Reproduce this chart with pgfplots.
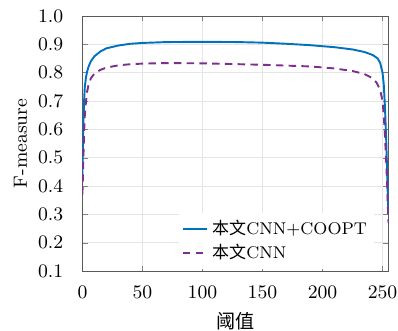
\documentclass[border={3.2pt -3.5pt -3pt 1.3pt}]{standalone}
\usepackage{pgfplots}
\pgfplotsset{compat=1.18}
\usepackage{fontspec}
\newfontfamily\cjk{Noto Sans CJK SC}
\definecolor{cblue}{RGB}{0,114,189}
\definecolor{cpurp}{RGB}{126,47,142}
\begin{document}
\begin{tikzpicture}
\begin{axis}[
  scale only axis,
  width=144pt, height=120pt,
  xmin=0, xmax=255, ymin=0.1, ymax=1.0,
  xtick={0,50,100,150,200,250},
  ytick={0.1,0.2,0.3,0.4,0.5,0.6,0.7,0.8,0.9,1.0},
  yticklabel style={xshift=-5.5pt, /pgf/number format/.cd,fixed,fixed zerofill,precision=1},
  xticklabel style={yshift=-3.6pt},
  tick label style={font=\small},
  label style={font=\small},
  ylabel style={yshift=-1.7pt},
  xlabel style={yshift=0.2pt},
  grid=major,
  major grid style={gray!20},
  axis line style={gray!70!black},
  major tick length=2.5pt,
  xlabel={\cjk 阈值},
  ylabel={F-measure},
  legend style={draw=none, fill=white, font=\footnotesize, row sep=-1pt, inner sep=1.5pt,
    at={(0.955,0.005)}, anchor=south east},
  legend image code/.code={\draw[#1] plot coordinates {(0cm,0cm) (0.2cm,0cm) (0.4cm,0cm)};},
  legend cell align=left,
]
\addplot[cblue, line width=0.9pt] coordinates {
(0,0.44) (0.5,0.56) (1,0.65) (1.5,0.71) (2,0.75) (3,0.785) (4,0.805) (5,0.82) (7,0.84) (10,0.858) (15,0.875) (20,0.886) (30,0.896) (40,0.902) (50,0.905) (70,0.908) (100,0.909) (130,0.908) (150,0.906) (170,0.902) (190,0.897) (210,0.89) (225,0.882) (235,0.873) (242,0.862) (246,0.85) (248,0.835) (250,0.80) (251,0.76) (252,0.68) (253,0.57) (254,0.43) (254.5,0.35) (255,0.30)
};
\addlegendentry{\cjk 本文\rmfamily CNN+COOPT}
\addplot[cpurp, line width=0.9pt, dash pattern=on 3.5pt off 2.5pt] coordinates {
(0,0.37) (0.5,0.45) (1,0.53) (1.5,0.60) (2,0.65) (3,0.70) (4,0.735) (5,0.755) (7,0.78) (10,0.797) (15,0.81) (20,0.818) (30,0.826) (40,0.83) (50,0.832) (70,0.834) (100,0.833) (130,0.83) (150,0.828) (170,0.825) (190,0.822) (210,0.815) (225,0.806) (235,0.795) (241,0.782) (245,0.765) (248,0.74) (250,0.70) (251,0.65) (252,0.58) (253,0.49) (254,0.39) (254.5,0.32) (255,0.27)
};
\addlegendentry{\cjk 本文\rmfamily CNN}
\end{axis}
\end{tikzpicture}
\end{document}
